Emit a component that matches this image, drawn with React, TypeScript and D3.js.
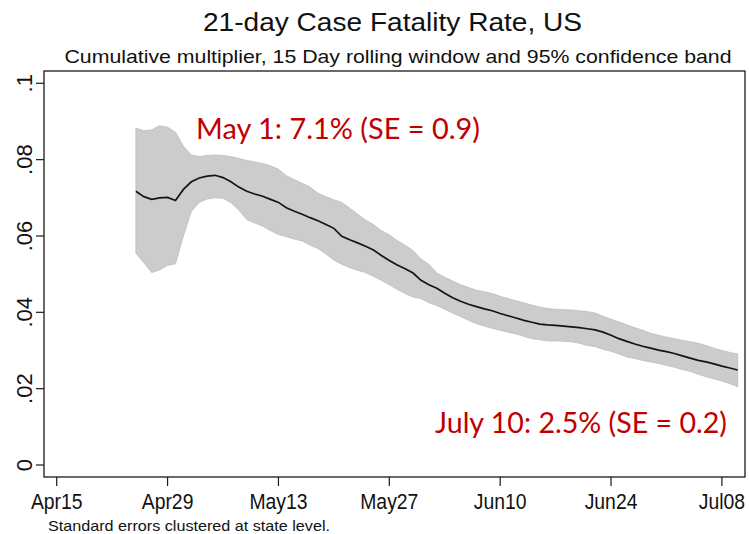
import React from "react";
import * as d3 from "d3";

const startDate = new Date(2020, 3, 25);
const meanCFR = [
  0.0717, 0.0703, 0.0696, 0.07, 0.0701, 0.0693, 0.0722, 0.0742, 0.0752, 0.0757,
  0.0759, 0.0753, 0.0742, 0.0728, 0.0717, 0.071, 0.0704, 0.0696, 0.0688, 0.0674,
  0.0665, 0.0657, 0.0648, 0.064, 0.063, 0.062, 0.0599, 0.059, 0.0582, 0.0573,
  0.0563, 0.0549, 0.0536, 0.0524, 0.0514, 0.0503, 0.0484, 0.0472, 0.0463, 0.045,
  0.0438, 0.0429, 0.0421, 0.0415, 0.0409, 0.0404, 0.0397, 0.0391, 0.0385, 0.0379,
  0.0374, 0.0369, 0.0367, 0.0366, 0.0364, 0.0362, 0.036, 0.0357, 0.0354, 0.0348,
  0.034, 0.0331, 0.0324, 0.0317, 0.0311, 0.0306, 0.0301, 0.0297, 0.0292, 0.0286,
  0.028, 0.0274, 0.027, 0.0265, 0.0259, 0.0254, 0.0249,
];
const upperCI = [
  0.0883, 0.0876, 0.0878, 0.0889, 0.0885, 0.0872, 0.0835, 0.0812, 0.0808, 0.0811,
  0.0812, 0.0811, 0.0808, 0.0803, 0.0798, 0.0794, 0.079, 0.0784, 0.0775, 0.0758,
  0.0748, 0.0738, 0.0728, 0.0712, 0.0703, 0.0695, 0.0688, 0.0673, 0.0657, 0.0642,
  0.063, 0.0614, 0.0603, 0.0588, 0.0576, 0.0562, 0.054, 0.0526, 0.0503, 0.0492,
  0.0482, 0.0472, 0.0465, 0.0458, 0.0454, 0.0449, 0.0442, 0.0436, 0.043, 0.0425,
  0.0419, 0.0414, 0.041, 0.0408, 0.0407, 0.0406, 0.0404, 0.0402, 0.0398, 0.039,
  0.0382, 0.0375, 0.0367, 0.036, 0.0353, 0.0345, 0.034, 0.0335, 0.0331, 0.0327,
  0.0323, 0.0319, 0.0313, 0.0306, 0.03, 0.0295, 0.0291,
];
const lowerCI = [
  0.0555, 0.053, 0.0504, 0.0511, 0.0523, 0.0527, 0.06, 0.0664, 0.0688, 0.0697,
  0.07, 0.0699, 0.0687, 0.0668, 0.0643, 0.0634, 0.0626, 0.0614, 0.0604, 0.0598,
  0.0592, 0.0587, 0.0576, 0.0567, 0.0553, 0.0537, 0.0526, 0.0517, 0.051, 0.0504,
  0.0494, 0.0484, 0.0472, 0.046, 0.0449, 0.044, 0.0436, 0.0425, 0.0418, 0.0408,
  0.0398, 0.0389, 0.0379, 0.037, 0.0364, 0.0358, 0.0353, 0.0348, 0.0343, 0.0337,
  0.0331, 0.0328, 0.0325, 0.0325, 0.0324, 0.0323, 0.0319, 0.0313, 0.031, 0.0303,
  0.0298, 0.0291, 0.0283, 0.0279, 0.0274, 0.027, 0.0266, 0.0261, 0.0256, 0.025,
  0.0245, 0.0238, 0.0231, 0.0226, 0.022, 0.0213, 0.0205,
];
const xTickDates = [
  new Date(2020, 3, 15), new Date(2020, 3, 29), new Date(2020, 4, 13),
  new Date(2020, 4, 27), new Date(2020, 5, 10), new Date(2020, 5, 24),
  new Date(2020, 6, 8),
];
const xTickLabels = ["Apr15", "Apr29", "May13", "May27", "Jun10", "Jun24", "Jul08"];
const yTickValues = [0, 0.02, 0.04, 0.06, 0.08, 0.1];
const yTickLabels = ["0", ".02", ".04", ".06", ".08", ".1"];

const title = "21-day Case Fatality Rate, US";
const subtitle = "Cumulative multiplier, 15 Day rolling window and 95% confidence band";
const note = "Standard errors clustered at state level.";
const annoStart = "May 1: 7.1% (SE = 0.9)";
const annoEnd = "July 10: 2.5% (SE = 0.2)";

export default function App() {
  const W = 749, H = 534;
  const box = { l: 44, r: 745, t: 71, b: 477 };
  const x = d3.scaleTime()
    .domain([new Date(2020, 3, 15), new Date(2020, 6, 8)])
    .range([56.7, 721.9]);
  const y = d3.scaleLinear().domain([0, 0.1]).range([465, 83.3]);

  const rows = meanCFR.map((m, i) => ({
    date: d3.timeDay.offset(startDate, i),
    m, lo: lowerCI[i], hi: upperCI[i],
  }));
  const area = d3.area<any>()
    .x((d) => x(d.date)).y0((d) => y(d.lo)).y1((d) => y(d.hi));
  const line = d3.line<any>().x((d) => x(d.date)).y((d) => y(d.m));

  const sans = "'Liberation Sans', Arial, sans-serif";
  const red = "#c00000";

  return (
    <svg width={W} height={H} style={{ position: "absolute", left: 0, top: 0, background: "#fff" }}
      fontFamily={sans}>
      <rect x={0} y={0} width={W} height={H} fill="#fff" />
      <text x={392.5} y={31} fontSize={26} textAnchor="middle" textLength={379}
        lengthAdjust="spacingAndGlyphs" fill="#111">{title}</text>
      <text x={398} y={63} fontSize={19} textAnchor="middle" textLength={667}
        lengthAdjust="spacingAndGlyphs" fill="#111">{subtitle}</text>

      <path d={area(rows) || ""} fill="#cccccc" stroke="#bdbdbd" strokeWidth={0.8} />
      <path d={line(rows) || ""} fill="none" stroke="#141414" strokeWidth={1.7} />

      <rect x={box.l} y={box.t} width={box.r - box.l} height={box.b - box.t}
        fill="none" stroke="#1a1a1a" strokeWidth={1.3} />

      {yTickValues.map((v, i) => (
        <g key={"y" + i}>
          <line x1={36} x2={box.l} y1={y(v)} y2={y(v)} stroke="#1a1a1a" strokeWidth={1.2} />
          <text transform={`translate(32,${y(v)}) rotate(-90)`} fontSize={22}
            textAnchor="middle" fill="#111">{yTickLabels[i]}</text>
        </g>
      ))}
      {xTickDates.map((d, i) => (
        <g key={"x" + i}>
          <line x1={x(d)} x2={x(d)} y1={box.b} y2={486} stroke="#1a1a1a" strokeWidth={1.2} />
          <text transform={`translate(${x(d)},509) scale(0.88,1)`} fontSize={22}
            textAnchor="middle" fill="#111">{xTickLabels[i]}</text>
        </g>
      ))}

      <text x={48} y={531} fontSize={15} textLength={282} lengthAdjust="spacingAndGlyphs"
        fill="#111">{note}</text>

      <text x={196} y={139} fontSize={29} fontFamily="Lato, 'Open Sans', sans-serif"
        textLength={284} lengthAdjust="spacingAndGlyphs" fill={red}>{annoStart}</text>
      <text x={435} y={433} fontSize={29} fontFamily="Lato, 'Open Sans', sans-serif"
        textLength={292} lengthAdjust="spacingAndGlyphs" fill={red}>{annoEnd}</text>
    </svg>
  );
}
